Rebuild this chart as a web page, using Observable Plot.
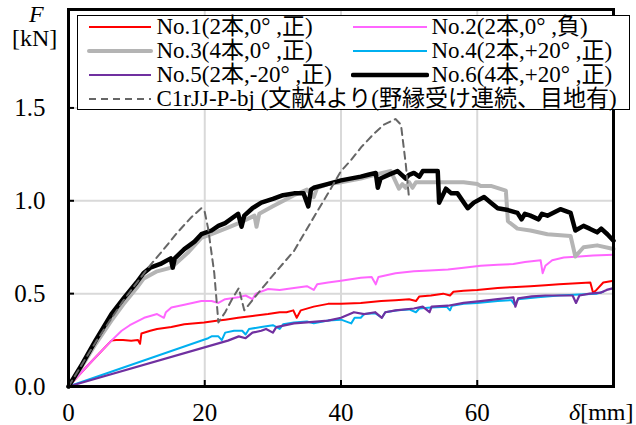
<!DOCTYPE html>
<html><head><meta charset="utf-8">
<script src="https://cdn.jsdelivr.net/npm/d3@7"></script>
<script src="https://cdn.jsdelivr.net/npm/@observablehq/plot@0.6"></script>
<style>
body{margin:0;background:#fff;}
#wrap{position:relative;width:636px;height:425px;font-family:"Liberation Serif","Times New Roman",Tinos,"DejaVu Serif","Noto Sans CJK JP",serif;color:#000;}
.lbl{position:absolute;font-size:24px;line-height:22px;white-space:nowrap;}
#legend{position:absolute;left:77px;top:15px;width:553px;height:95px;border:1.5px solid #000;background:#fff;box-sizing:border-box;}
.ltxt{position:absolute;font-size:23px;line-height:24px;white-space:nowrap;}
.lsvg{position:absolute;}
</style></head><body><div id="wrap"></div>
<script>
const FONT = '"Liberation Serif","Times New Roman",Tinos,"DejaVu Serif","Noto Sans CJK JP",serif';
const xTicks = [0, 20, 40, 60];
const yTicks = [0, 0.5, 1.0, 1.5];

const seriesNames = [
  "No.1(2本,0° ,正)", "No.2(2本,0° ,負)", "No.3(4本,0° ,正)",
  "No.4(2本,+20° ,正)", "No.5(2本,-20° ,正)", "No.6(4本,+20° ,正)",
  "C1rJJ-P-bj (文献4より(野縁受け連続、目地有)"
];
const seriesColors = ["#ff0000", "#ff66ff", "#b4b4b4", "#00b0f0", "#7030a0", "#000000", "#666666"];
const seriesWidths = [2, 2, 4, 2, 2.2, 4.5, 2];

// [δ mm, F kN]
const no1 = [[0,0],[3,0.12],[6.3,0.247],[7,0.25],[8,0.25],[9.2,0.247],[10.2,0.25],[10.5,0.23],[10.7,0.285],[12,0.3],[13,0.31],[15.1,0.32],[17,0.335],[19.9,0.345],[22,0.355],[23,0.36],[24.9,0.37],[27,0.38],[29.3,0.39],[31,0.4],[32,0.4],[33,0.41],[33.5,0.37],[34.1,0.41],[36,0.43],[38.1,0.445],[40,0.445],[42.9,0.45],[45.9,0.46],[48,0.465],[50,0.47],[51,0.46],[51.5,0.485],[53.2,0.49],[55,0.5],[56,0.49],[56.5,0.51],[58,0.515],[60,0.52],[63,0.53],[65,0.535],[67.8,0.54],[70,0.545],[72,0.55],[74,0.555],[76.6,0.56],[77,0.505],[77.5,0.52],[78.5,0.56],[80,0.57]];
const no2 = [[0,0],[3,0.12],[6.3,0.247],[7.8,0.3],[9,0.33],[11.1,0.37],[12,0.38],[13,0.39],[14,0.37],[14.3,0.4],[15.1,0.425],[17,0.44],[19.5,0.46],[21,0.46],[22,0.45],[23,0.47],[24.9,0.48],[26,0.49],[27,0.47],[27.5,0.5],[29.3,0.525],[31,0.52],[33.1,0.53],[35,0.54],[36,0.52],[36.5,0.55],[38.1,0.56],[40,0.57],[42.9,0.586],[44.5,0.59],[45.1,0.55],[45.5,0.59],[48,0.61],[50.7,0.62],[53,0.625],[55.7,0.63],[58,0.64],[60.5,0.65],[63,0.655],[65.3,0.66],[67,0.67],[69.3,0.68],[69.6,0.61],[70,0.65],[71,0.68],[72.7,0.695],[75,0.7],[77,0.705],[80,0.71]];
const no3 = [[0,0],[2,0.11],[4,0.23],[6.3,0.355],[8,0.44],[10,0.53],[11,0.58],[13,0.62],[15.1,0.64],[16,0.67],[17.5,0.72],[19.5,0.8],[21,0.82],[23.4,0.855],[25,0.88],[27.3,0.92],[27.6,0.86],[28,0.93],[30,0.97],[33.1,1.03],[35,1.06],[36,1.02],[36.5,1.07],[38.1,1.09],[40,1.1],[42.9,1.12],[44,1.13],[45,1.14],[47.3,1.16],[48.5,1.065],[49,1.09],[49.5,1.07],[50,1.1],[50.5,1.07],[51,1.1],[53.2,1.1],[55,1.1],[58,1.1],[60,1.09],[60.5,1.08],[62,1.08],[64.2,1.055],[64.5,0.89],[65.9,0.85],[67.8,0.84],[70.3,0.82],[73.7,0.81],[74.4,0.7],[75.6,0.75],[77.6,0.76],[80,0.74]];
const no4 = [[0,0],[20.5,0.26],[21,0.27],[22,0.27],[22.5,0.25],[23,0.29],[24.3,0.3],[25.5,0.3],[26,0.28],[26.5,0.31],[28.3,0.32],[30,0.33],[31,0.31],[31.5,0.335],[33.1,0.345],[35,0.35],[36,0.34],[38.1,0.355],[40,0.36],[41.5,0.34],[42,0.37],[42.9,0.37],[43.4,0.39],[45,0.395],[46,0.37],[46.5,0.4],[48.3,0.41],[50,0.415],[51,0.4],[51.5,0.42],[53.2,0.425],[55.5,0.43],[56,0.41],[56.3,0.435],[58,0.445],[60,0.45],[63,0.46],[65,0.465],[65.5,0.44],[66,0.47],[68.9,0.48],[72,0.49],[75,0.495],[77.6,0.5],[78.5,0.51]];
const no5 = [[0,0],[23.4,0.247],[25,0.27],[26,0.26],[27,0.29],[28.3,0.3],[29,0.31],[30,0.29],[30.5,0.32],[33.1,0.34],[35,0.345],[38.1,0.355],[40,0.37],[41.9,0.4],[43.4,0.39],[45,0.4],[46,0.37],[46.5,0.4],[48,0.41],[50.7,0.42],[52,0.43],[53,0.4],[53.3,0.43],[55.7,0.435],[58,0.45],[60.5,0.46],[63,0.47],[65.3,0.48],[65.6,0.43],[66,0.475],[68,0.485],[70,0.49],[72.7,0.49],[74,0.49],[74.5,0.45],[75,0.49],[76.5,0.5],[78.1,0.505],[79,0.52],[80,0.53]];
const no6 = [[0,0],[2,0.12],[4,0.25],[6.3,0.39],[8,0.47],[10,0.56],[11,0.61],[12,0.64],[13.5,0.66],[15,0.69],[15.3,0.64],[15.6,0.69],[17,0.74],[18.5,0.78],[19.5,0.82],[21,0.84],[22,0.865],[23,0.88],[24.9,0.93],[25.4,0.86],[25.8,0.92],[27,0.96],[28.3,0.99],[30,1.01],[31.5,1.03],[33.1,1.04],[34.5,1.04],[35.2,0.97],[35.6,1.06],[36,1.07],[38,1.09],[40,1.11],[42.9,1.13],[44,1.14],[45.1,1.15],[45.4,1.07],[45.8,1.12],[47.3,1.145],[48.3,1.16],[49.5,1.12],[50,1.14],[50.7,1.15],[51.5,1.13],[52,1.16],[53.2,1.16],[54.2,1.16],[54.4,0.99],[55.4,1.065],[56.2,1.04],[57.1,1.04],[58.6,0.96],[59.5,0.99],[61,1.02],[62,0.99],[63,0.96],[64.5,0.95],[65.9,0.935],[66.5,0.9],[67,0.93],[67.8,0.92],[69,0.9],[69.5,0.93],[70.3,0.92],[72.2,0.955],[73.7,0.935],[74.4,0.84],[75.6,0.865],[76.5,0.85],[77.6,0.83],[78.2,0.85],[79.1,0.82],[80,0.785]];
const ref = [[0,0],[4,0.24],[8,0.46],[11.7,0.64],[14,0.74],[16,0.83],[18,0.91],[19.5,0.96],[20,0.94],[20.5,0.85],[21.4,0.61],[22,0.345],[23,0.4],[24,0.47],[25,0.53],[25.4,0.47],[25.8,0.41],[28,0.51],[30.5,0.62],[33.1,0.73],[35.5,0.88],[38.1,1.04],[40,1.16],[41.5,1.22],[43,1.29],[44.8,1.36],[46.3,1.41],[48,1.44],[48.8,1.41],[49.5,1.2],[50,1.01]];

const seriesData = [no1, no2, no3, no4, no5, no6, ref];

const lineMarks = seriesData.map((data, i) => Plot.line(data, {
  x: d => d[0], y: d => d[1],
  stroke: seriesColors[i], strokeWidth: seriesWidths[i],
  strokeDasharray: i === 6 ? "7,5" : null,
  strokeLinejoin: "round"
}));

const chart = Plot.plot({
  width: 636, height: 425,
  marginLeft: 68, marginRight: 23, marginTop: 9, marginBottom: 39,
  x: {domain: [0, 80]},
  y: {domain: [0, 2.03]},
  style: {fontFamily: FONT, fontSize: "24px", color: "#000", background: "#fff"},
  marks: [
    Plot.gridX(xTicks.slice(1), {stroke: "#d9d9d9", strokeOpacity: 1, strokeWidth: 2}),
    Plot.gridY(yTicks.slice(1), {stroke: "#d9d9d9", strokeOpacity: 1, strokeWidth: 2}),
    ...lineMarks,
    Plot.axisX(xTicks, {tickSize: -6, tickFormat: () => "", label: null, strokeWidth: 2}),
    Plot.axisX(xTicks, {tickSize: 0, tickPadding: 17, label: null, fontSize: 25}),
    Plot.axisY(yTicks, {tickSize: -6, tickFormat: () => "", label: null, strokeWidth: 2}),
    Plot.axisY(yTicks, {tickSize: 0, tickPadding: 23, label: null, fontSize: 25, tickFormat: d3.format(".1f")}),
    Plot.frame({stroke: "#000", strokeWidth: 3})
  ]
});

const wrap = document.getElementById("wrap");
wrap.appendChild(chart);

function addLabel(html, left, top) {
  const d = document.createElement("div");
  d.className = "lbl";
  d.innerHTML = html;
  d.style.left = left + "px"; d.style.top = top + "px";
  wrap.appendChild(d);
}
addLabel("<i>F</i>", 29, 3);
addLabel("[kN]", 12, 27);
addLabel("<i>δ</i>[mm]", 569, 401);

// legend
const lg = document.createElement("div");
lg.id = "legend";
wrap.appendChild(lg);
const legendPos = [
  {col: 0, row: 0}, {col: 1, row: 0}, {col: 0, row: 1}, {col: 1, row: 1},
  {col: 0, row: 2}, {col: 1, row: 2}, {col: 0, row: 3}
];
const colX = [[10.5, 72.5, 78.5], [275, 349, 353.5]];
seriesNames.forEach((name, i) => {
  const p = legendPos[i];
  const cy = 10.5 + p.row * 24;
  const [x1, x2, tx] = colX[p.col];
  const svg = document.createElementNS("http://www.w3.org/2000/svg", "svg");
  svg.setAttribute("class", "lsvg");
  svg.setAttribute("width", x2 - x1 + 4);
  svg.setAttribute("height", 12);
  svg.style.left = (x1 - 2) + "px";
  svg.style.top = (cy - 6) + "px";
  const ln = document.createElementNS("http://www.w3.org/2000/svg", "line");
  ln.setAttribute("x1", 2); ln.setAttribute("x2", x2 - x1 + 2);
  ln.setAttribute("y1", 6); ln.setAttribute("y2", 6);
  ln.setAttribute("stroke", seriesColors[i]);
  ln.setAttribute("stroke-width", seriesWidths[i]);
  ln.setAttribute("stroke-linecap", i === 2 || i === 5 ? "round" : "butt");
  if (i === 6) ln.setAttribute("stroke-dasharray", "7,5");
  svg.appendChild(ln);
  lg.appendChild(svg);
  const t = document.createElement("div");
  t.className = "ltxt";
  t.textContent = name;
  t.style.left = tx + "px";
  t.style.top = (cy - 12) + "px";
  lg.appendChild(t);
});
</script>
</body></html>
